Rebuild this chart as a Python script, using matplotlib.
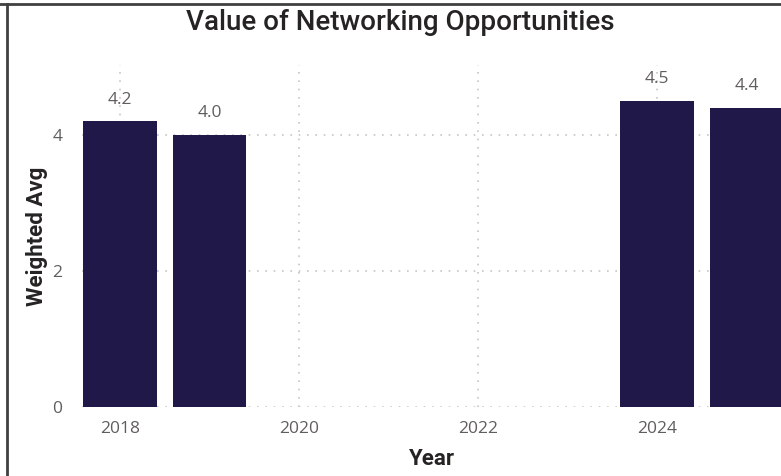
import numpy as np
import matplotlib.pyplot as plt
from matplotlib.lines import Line2D

years = [2018, 2019, 2024, 2025]
weighted_avg = [4.2, 4.0, 4.5, 4.4]
labels = ['4.2', '4.0', '4.5', '4.4']
xticks = [2018, 2020, 2022, 2024]
yticks = [0, 2, 4]

BAR = '#201848'
TICK = '#605E5C'
DARK = '#252423'

fig = plt.figure(figsize=(7.81, 4.76), dpi=100)
ax = fig.add_axes([82/781, 1 - 407/476, 1 - 82/781, (407 - 65)/476])

ax.bar(years, weighted_avg, width=0.82, color=BAR, zorder=3)
for x, v, t in zip(years, weighted_avg, labels):
  ax.text(x, v + 0.2, t, ha='center', va='bottom', fontsize=12.5,
          color=TICK, family='Open Sans', zorder=4)

ax.set_xlim(2017.575, 2025.385)
ax.set_ylim(0, 5.03)
ax.set_xticks(xticks)
ax.set_yticks(yticks)
ax.tick_params(length=0, labelsize=12.5, labelcolor=TICK)
for lab in ax.get_xticklabels() + ax.get_yticklabels():
  lab.set_family('Open Sans')
ax.tick_params(axis='x', pad=10)
ax.tick_params(axis='y', pad=14)
ax.grid(True, linestyle=(0, (1, 4)), color='#C8C6C4', linewidth=1.2, zorder=0)
for s in ax.spines.values():
  s.set_visible(False)

ax.set_xlabel('Year', fontsize=16, color=DARK, family='Roboto',
              fontweight='bold', labelpad=8)
ax.set_ylabel('Weighted Avg', fontsize=16, color=DARK, family='Roboto',
              fontweight='bold', labelpad=3)
fig.text(400/781, 1 - 22/476, 'Value of Networking Opportunities',
         ha='center', va='center', fontsize=20, color=DARK, family='Roboto',
         fontweight='medium')

# frame of the card
fig.add_artist(Line2D([0, 1], [1 - 4/476, 1 - 4/476], color='#404040', lw=2))
fig.add_artist(Line2D([6.5/781, 6.5/781], [0, 1 - 4/476], color='#404040', lw=2))

fig.savefig('out.png', dpi=100)
